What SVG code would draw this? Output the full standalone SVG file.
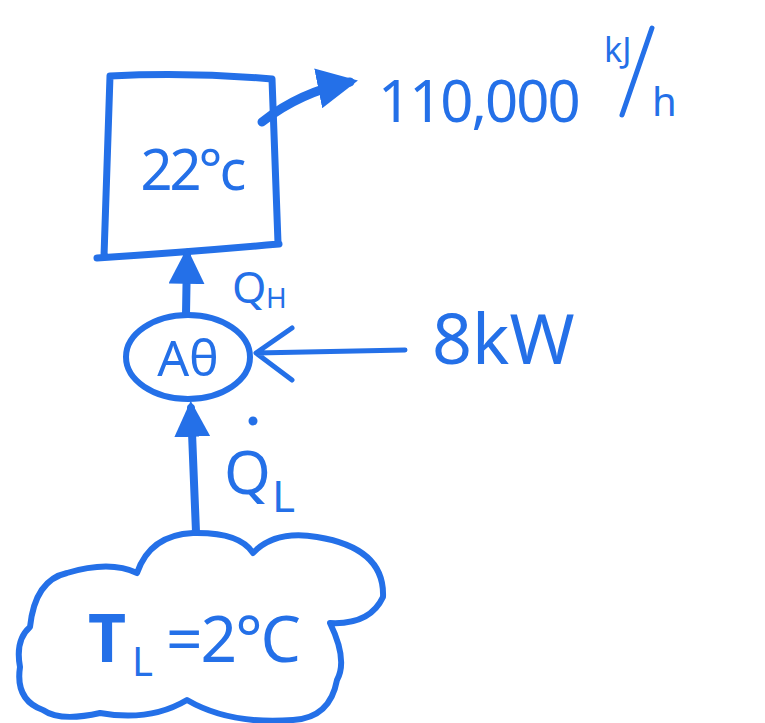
<svg xmlns="http://www.w3.org/2000/svg" width="765" height="723" viewBox="0 0 765 723">
<style>
.s{fill:none;stroke:#2470e8;stroke-linecap:round;stroke-linejoin:round}
.t{fill:#2470e8;font-family:"Noto Sans","DejaVu Sans",sans-serif}
</style>
<defs>
<marker id="ah" viewBox="0 0 10 10" refX="8" refY="5" markerWidth="4.5" markerHeight="4.5" orient="auto-start-reverse">
<path d="M0,0 L10,5 L0,10 z" fill="#2470e8"/>
</marker>
</defs>
<rect width="765" height="723" fill="#ffffff"/>
<g id="room">
<path class="s" stroke-width="7" d="M110,76 Q190,72 272,79 L278,243 M110,76 L104,256 M97,258 Q190,252 279,244"/>
<text class="t" x="192" y="190" font-size="56" text-anchor="middle" letter-spacing="-3">22°c</text>
</g>
<g id="heatpump">
<ellipse class="s" stroke-width="6" cx="188" cy="357" rx="62" ry="42"/>
<text class="t" x="188" y="376" font-size="50" text-anchor="middle">Aθ</text>
</g>
<g id="cold">
<path class="s" stroke-width="6" d="M137,573 Q150,535 193,533 Q240,532 253,553 Q275,530 317,537 Q385,548 383,597 Q370,625 330,623 Q348,660 337,680 Q330,718 293,720 Q230,725 187,700 Q150,722 100,713 Q60,722 43,710 Q15,700 20,667 Q15,640 30,627 Q35,580 67,573 Q110,560 137,573"/>
<text class="t" x="88" y="662" font-size="66" font-weight="bold">T</text>
<text class="t" x="132" y="676" font-size="40">L</text>
<text class="t" x="166" y="662" font-size="64" letter-spacing="-2">=2°C</text>
</g>
<g id="labels">
<text class="t" x="378" y="122" font-size="58" letter-spacing="-2">110,000</text>
<text class="t" x="604" y="62" font-size="34">kJ</text>
<path class="s" stroke-width="5" d="M652,28 L622,115"/>
<text class="t" x="652" y="116" font-size="40">h</text>
<text class="t" x="232" y="303" font-size="44">Q</text>
<text class="t" x="266" y="308" font-size="28">H</text>
<text class="t" x="432" y="364" font-size="70">8kW</text>
<text class="t" x="224" y="494" font-size="60">Q</text>
<circle cx="253" cy="421" r="4.5" fill="#2470e8"/>
<text class="t" x="272" y="512" font-size="44">L</text>
</g>
<g id="connectors">
<path class="s" stroke-width="9" marker-end="url(#ah)" d="M262,122 Q300,92 350,82"/>
<path class="s" stroke-width="8" marker-end="url(#ah)" d="M186,314 L187,255"/>
<path class="s" stroke-width="8" marker-end="url(#ah)" d="M196,532 L191,408"/>
<path class="s" stroke-width="5" d="M405,350 L256,353 M292,328 L256,353 L292,380"/>
</g>
</svg>
